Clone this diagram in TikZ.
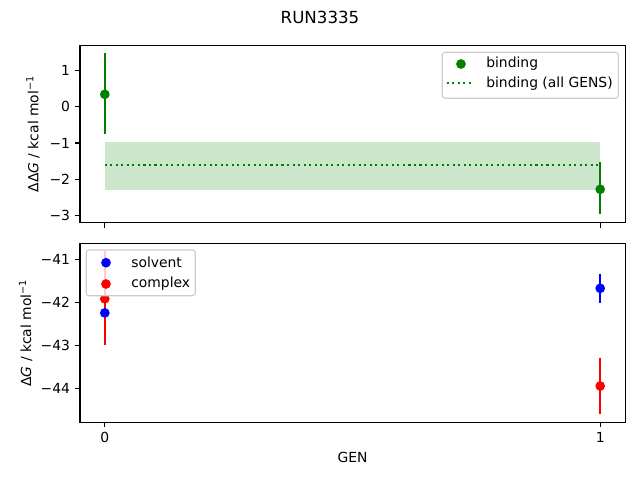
\documentclass[tikz,border=0pt]{standalone}
\usepackage{fontspec}
\setmainfont{DejaVu Sans}
\definecolor{mgreen}{HTML}{008000}
\definecolor{mblue}{HTML}{0000FF}
\definecolor{mred}{HTML}{FF0000}
\definecolor{band}{HTML}{CCE6CC}
\definecolor{legedge}{HTML}{CCCCCC}
\begin{document}
\begin{tikzpicture}[x=0.72pt,y=-0.72pt,
  frame/.style={line width=0.8pt,draw=black},
  tickmark/.style={line width=0.8pt},
  ticklab/.style={font=\fontsize{10}{12}\selectfont,inner sep=0pt},
  errbar/.style={line width=1.5pt},
  dotpt/.style={circle,inner sep=0pt,minimum size=7pt},
  legbox/.style={draw=legedge,line width=0.8pt,fill=white,fill opacity=0.8,rounded corners=2pt},
  legtext/.style={font=\fontsize{10}{12}\selectfont,anchor=west,inner sep=0pt},
  dotline/.style={line width=1.5pt,dash pattern=on 1.5pt off 2.475pt}]
\useasboundingbox (0,0) rectangle (640,480);
% title
\node[font=\fontsize{12}{14}\selectfont] (title) at (320,17) {RUN3335};
% ---------- top axes ----------
\fill[band] (104.8,142.3) rectangle (600.2,189.7);
\draw[mgreen,dotline] (104.8,165) -- (600.2,165);
\draw[mgreen,errbar] (104.8,53.3) -- (104.8,134.3);
\draw[mgreen,errbar] (600.2,162) -- (600.2,214);
\node[dotpt,fill=mgreen] (b0) at (104.8,94.3) {};
\node[dotpt,fill=mgreen] (b1) at (600.2,189.3) {};
\draw[frame] (80,45.3) rectangle (625.3,222.7);
\foreach \yy/\lab in {70.3/1,106.7/0,143.0/−1,179.4/−2,215.7/−3}{
  \draw[tickmark] (80,\yy) -- ++(-4.86,0);
  \node[ticklab,anchor=east] at (70.3,\yy) {\lab};
}
\foreach \xx in {104.8,600.2}{
  \draw[tickmark] (\xx,222.7) -- ++(0,4.86);
}
\node[rotate=90,font=\fontsize{10}{12}\selectfont] (ylab1) at (33,134) {ΔΔ\textit{G} / kcal mol\textsuperscript{−1}};
% legend top
\draw[legbox] (442.3,52.3) rectangle (618.3,98.3);
\node[dotpt,fill=mgreen] (lgb) at (461,64) {};
\node[legtext] (lgbt) at (486,64) {binding};
\draw[mgreen,dotline] (446.7,83.3) -- (474.3,83.3);
\node[legtext] (lgat) at (486,83.3) {binding (all GENS)};
% ---------- bottom axes ----------
\draw[mblue,errbar] (104.8,305) -- (104.8,320);
\draw[mblue,errbar] (600.2,273.7) -- (600.2,302.7);
\draw[mred,errbar] (104.8,251) -- (104.8,344.7);
\draw[mred,errbar] (600.2,357.7) -- (600.2,413.7);
\node[dotpt,fill=mred] (c0) at (104.8,298.8) {};
\node[dotpt,fill=mred] (c1) at (600.2,386) {};
\node[dotpt,fill=mblue] (s0) at (104.8,312.9) {};
\node[dotpt,fill=mblue] (s1) at (600.2,288.3) {};
\draw[frame] (80,243.3) rectangle (625.3,422.3);
\foreach \yy/\lab in {259.3/−41,302.3/−42,345.3/−43,388.3/−44}{
  \draw[tickmark] (80,\yy) -- ++(-4.86,0);
  \node[ticklab,anchor=east] at (70.3,\yy) {\lab};
}
\foreach \xx/\lab in {104.8/0,600.2/1}{
  \draw[tickmark] (\xx,422.3) -- ++(0,4.86);
  \node[ticklab,anchor=north] at (\xx,432) {\lab};
}
\node[font=\fontsize{10}{12}\selectfont] (xlab) at (352.6,457) {GEN};
\node[rotate=90,font=\fontsize{10}{12}\selectfont] (ylab2) at (25.7,333) {Δ\textit{G} / kcal mol\textsuperscript{−1}};
% legend bottom
\draw[legbox] (86.3,250) rectangle (195.3,295.7);
\node[dotpt,fill=mblue] (lgs) at (106,262.7) {};
\node[legtext] (lgst) at (131,262.7) {solvent};
\node[dotpt,fill=mred] (lgc) at (106,284) {};
\node[legtext] (lgct) at (131,284) {complex};
\end{tikzpicture}
\end{document}
